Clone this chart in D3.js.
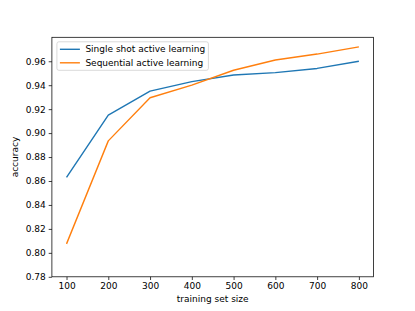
<!DOCTYPE html>
<html>
<head>
<meta charset="utf-8">
<title>active learning accuracy</title>
<script src="https://d3js.org/d3.v7.min.js"></script>
<style>
  body { margin: 0; background: #fff; }
  svg { display: block; font-family: "DejaVu Sans", sans-serif; }
</style>
</head>
<body>
<svg id="chart" width="415" height="311"></svg>
<script>
const sizes = [100, 200, 300, 400, 500, 600, 700, 800];
const singleShot = [0.863, 0.915, 0.935, 0.943, 0.9485, 0.9505, 0.954, 0.960];
const sequential = [0.8075, 0.8935, 0.9295, 0.940, 0.9525, 0.961, 0.966, 0.972];
const xTicks = [100, 200, 300, 400, 500, 600, 700, 800];
const yTicks = [0.78, 0.80, 0.82, 0.84, 0.86, 0.88, 0.90, 0.92, 0.94, 0.96];

const series = [
    { name: "Single shot active learning", values: singleShot, color: "#1f77b4" },
    { name: "Sequential active learning", values: sequential, color: "#ff7f0e" }
];

const margin = { top: 37.3, right: 41.5, bottom: 34.2, left: 51.9 };
const width = 415, height = 311;
const svg = d3.select("#chart");

const x = d3.scaleLinear()
    .domain([65, 835])
    .range([margin.left, width - margin.right]);

const y = d3.scaleLinear()
    .domain([0.78, 0.98])
    .range([height - margin.bottom, margin.top]);

// axes
const xAxis = svg.append("g")
    .attr("transform", `translate(0, ${height - margin.bottom})`)
    .call(d3.axisBottom(x).tickValues(xTicks).tickSize(3.2).tickPadding(3).tickSizeOuter(0));

const yAxis = svg.append("g")
    .attr("transform", `translate(${margin.left}, 0)`)
    .call(d3.axisLeft(y).tickValues(yTicks).tickFormat(d3.format(".2f")).tickSize(3.2).tickPadding(3).tickSizeOuter(0));

[xAxis, yAxis].forEach(g => {
    g.select(".domain").remove();
    g.selectAll("line").attr("stroke", "#000").attr("stroke-width", 0.75);
    g.selectAll("text").attr("font-size", 9).attr("fill", "#000")
        .attr("font-family", "DejaVu Sans, sans-serif");
});

// lines
const line = d3.line()
    .x((d, i) => x(sizes[i]))
    .y(d => y(d));

series.forEach(s => {
    svg.append("path")
        .datum(s.values)
        .attr("fill", "none")
        .attr("stroke", s.color)
        .attr("stroke-width", 1.4)
        .attr("stroke-linejoin", "round")
        .attr("d", line);
});

// frame
svg.append("rect")
    .attr("x", margin.left)
    .attr("y", margin.top)
    .attr("width", width - margin.left - margin.right)
    .attr("height", height - margin.top - margin.bottom)
    .attr("fill", "none")
    .attr("stroke", "#000")
    .attr("stroke-width", 0.75);

// axis labels
svg.append("text")
    .attr("x", (margin.left + width - margin.right) / 2)
    .attr("y", 302)
    .attr("text-anchor", "middle")
    .attr("font-size", 9)
    .text("training set size");

svg.append("text")
    .attr("transform", `translate(18, ${(margin.top + height - margin.bottom) / 2}) rotate(-90)`)
    .attr("text-anchor", "middle")
    .attr("font-size", 9)
    .text("accuracy");

// legend
const legend = svg.append("g")
    .attr("transform", `translate(${margin.left + 5}, ${margin.top + 4.5})`);

legend.append("rect")
    .attr("width", 151.5)
    .attr("height", 28.5)
    .attr("rx", 2)
    .attr("fill", "#fff")
    .attr("fill-opacity", 0.8)
    .attr("stroke", "#ccc")
    .attr("stroke-width", 0.75);

series.forEach((s, i) => {
    const cy = 7.5 + i * 13.5;
    legend.append("line")
        .attr("x1", 3).attr("x2", 23)
        .attr("y1", cy).attr("y2", cy)
        .attr("stroke", s.color)
        .attr("stroke-width", 1.4);
    legend.append("text")
        .attr("x", 28.5)
        .attr("y", cy)
        .attr("dy", "0.35em")
        .attr("font-size", 9)
        .text(s.name);
});
</script>
</body>
</html>
